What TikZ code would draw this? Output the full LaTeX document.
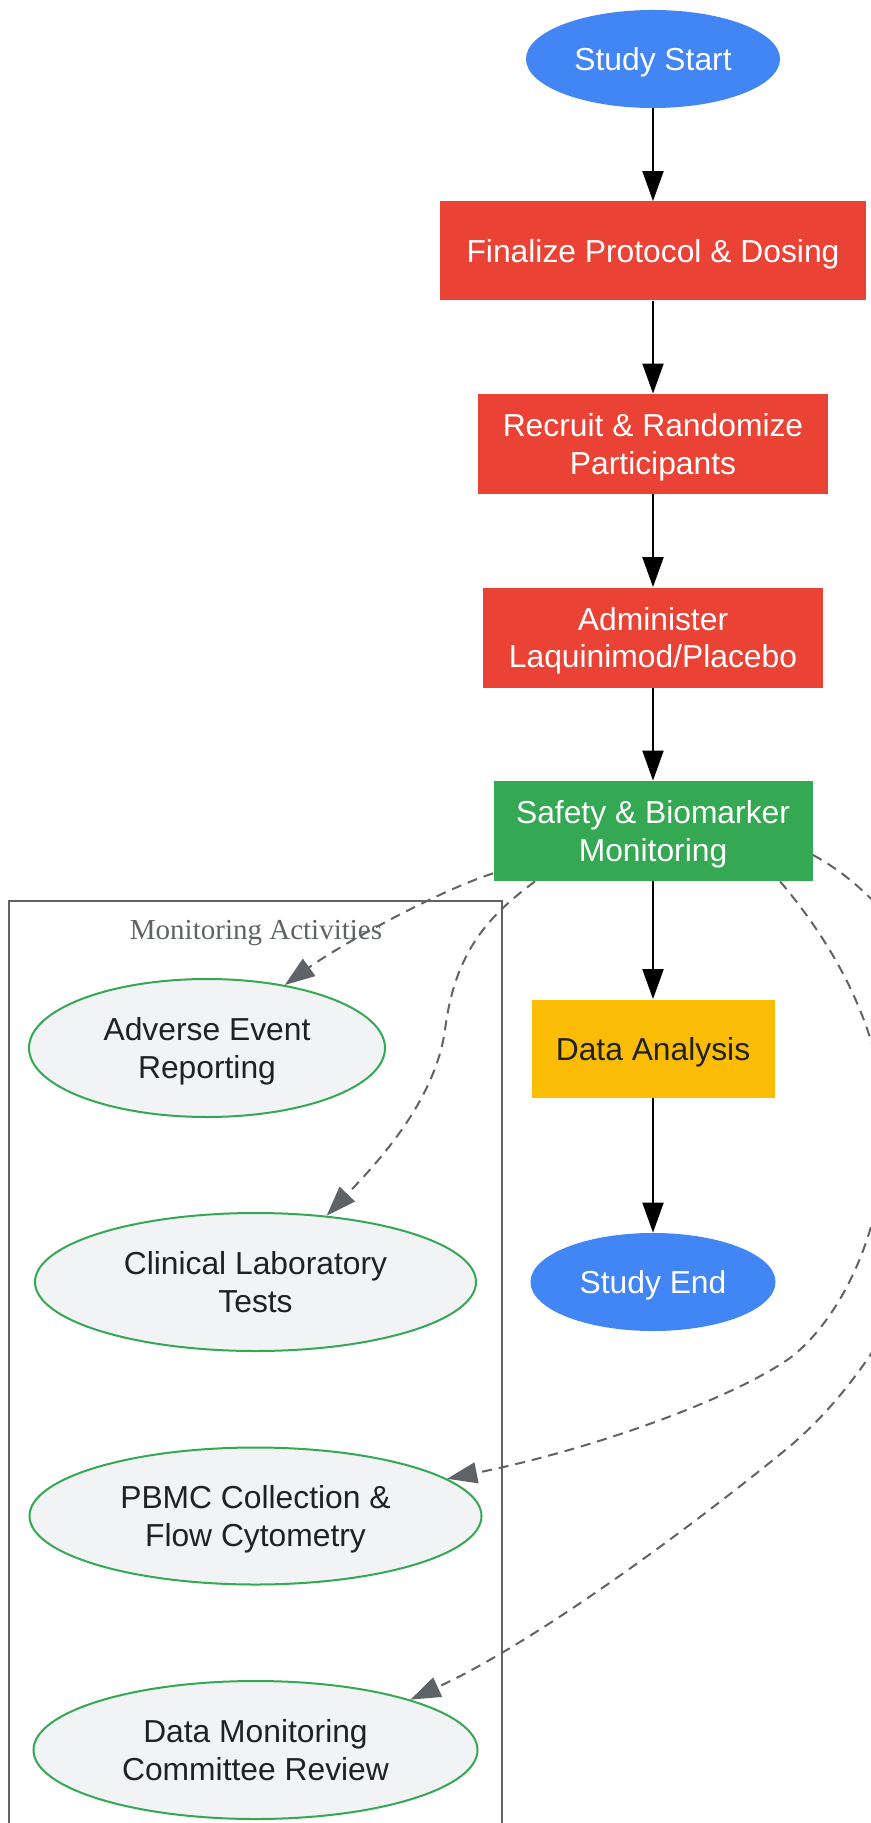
\documentclass[tikz,border=0pt]{standalone}
\usepackage{fontspec}
\setmainfont{Liberation Sans}
\newfontfamily\clusterfont{Liberation Serif}
\usetikzlibrary{shapes.geometric,arrows.meta,calc}
\definecolor{gblue}{HTML}{4285F4}
\definecolor{gred}{HTML}{EA4335}
\definecolor{ggreen}{HTML}{34A853}
\definecolor{gyellow}{HTML}{FBBC05}
\definecolor{glight}{HTML}{F1F3F4}
\definecolor{gdark}{HTML}{202124}
\definecolor{ggray}{HTML}{5F6368}
\newcommand{\nodetop}{\rule{0pt}{15pt}}
\newcommand{\nodebot}{\rule[-3.5pt]{0pt}{3.5pt}}
\begin{document}
\begin{tikzpicture}[x=0.5pt,y=-0.5pt,
  base/.style={inner sep=0pt, align=center, font=\fontsize{15.9}{18.6}\selectfont},
  procbox/.style={base, rectangle, fill=gred, text=white, minimum height=50pt},
  term/.style={base, ellipse, fill=gblue, text=white, minimum height=49pt},
  activity/.style={base, ellipse, fill=glight, draw=ggreen, line width=1pt, text=gdark, minimum height=68.5pt},
  flow/.style={draw=black, line width=1pt, -{Triangle[length=15pt,width=10.5pt]}},
  dashflow/.style={draw=ggray, fill=none, line width=1pt, dash pattern=on 5pt off 3.5pt, -{Triangle[length=15pt,width=10.5pt,fill=ggray]}},
  clusterbox/.style={draw=ggray, line width=1pt},
  clusterlabel/.style={font=\clusterfont\fontsize{14.5}{17}\selectfont, text=ggray, inner sep=0pt}
]
\useasboundingbox (0,0) rectangle (871,1823);
\clip (0,0) rectangle (871,1823);

% cluster
\draw[clusterbox] (9.4,901) rectangle (501.7,1850);
\node[clusterlabel] (clab) at (256,933) {Monitoring Activities};

% main flow
\node[term, minimum width=127pt] (start) at (653,59) {\nodetop Study Start\nodebot};
\node[procbox, minimum width=213pt, minimum height=49.5pt] (finalize) at (653,251) {\nodetop Finalize Protocol \& Dosing\nodebot};
\node[procbox, minimum width=175pt] (recruit) at (653,444) {\nodetop Recruit \& Randomize\\Participants\nodebot};
\node[procbox, minimum width=170pt] (admin) at (653,637.5) {\nodetop Administer\\Laquinimod/Placebo\nodebot};
\node[base, rectangle, fill=ggreen, text=white, minimum width=159.5pt, minimum height=50pt] (safety) at (653,831) {\nodetop Safety \& Biomarker\\Monitoring\nodebot};
\node[base, rectangle, fill=gyellow, text=gdark, minimum width=121.5pt, minimum height=49pt] (analysis) at (653,1048.5) {\nodetop Data Analysis\nodebot};
\node[term, minimum width=122.5pt] (end) at (653,1282) {\nodetop Study End\nodebot};

% activities
\node[activity, minimum width=178pt, minimum height=69pt] (ae) at (207,1048) {\nodetop Adverse Event\\Reporting\nodebot};
\node[activity, minimum width=220.5pt, minimum height=69pt] (lab) at (255.5,1282) {\nodetop Clinical Laboratory\\Tests\nodebot};
\node[activity, minimum width=226pt] (pbmc) at (255.5,1516) {\nodetop PBMC Collection \&\\Flow Cytometry\nodebot};
\node[activity, minimum width=222pt, minimum height=69pt] (dmc) at (255.5,1750) {\nodetop Data Monitoring\\Committee Review\nodebot};

% solid edges
\draw[flow] (start.south) -- (finalize.north);
\draw[flow] (finalize.south) -- (recruit.north);
\draw[flow] (recruit.south) -- (admin.north);
\draw[flow] (admin.south) -- (safety.north);
\draw[flow] (safety.south) -- (analysis.north);
\draw[flow] (analysis.south) -- (end.north);

% dashed edges
\draw[dashflow] ($(safety.south west)+(0,-8)$) .. controls (440,890) and (340,945) .. (ae.39);
\draw[dashflow] ($(safety.south)+(-118,0)$) .. controls (490,915) and (455,950) .. (445,1030)
  .. controls (435,1100) and (380,1160) .. (lab.43.5);
\draw[dashflow] ($(safety.south)+(127,0)$) .. controls (830,940) and (885,1030) .. (885,1130)
  .. controls (885,1230) and (840,1320) .. (790,1358)
  .. controls (730,1400) and (590,1450) .. (pbmc.11.5);
\draw[dashflow] ($(safety.east)+(0,24)$) .. controls (870,885) and (955,970) .. (955,1100)
  .. controls (955,1230) and (880,1370) .. (789,1447)
  .. controls (700,1520) and (540,1640) .. (dmc.18.8);
\end{tikzpicture}
\end{document}
